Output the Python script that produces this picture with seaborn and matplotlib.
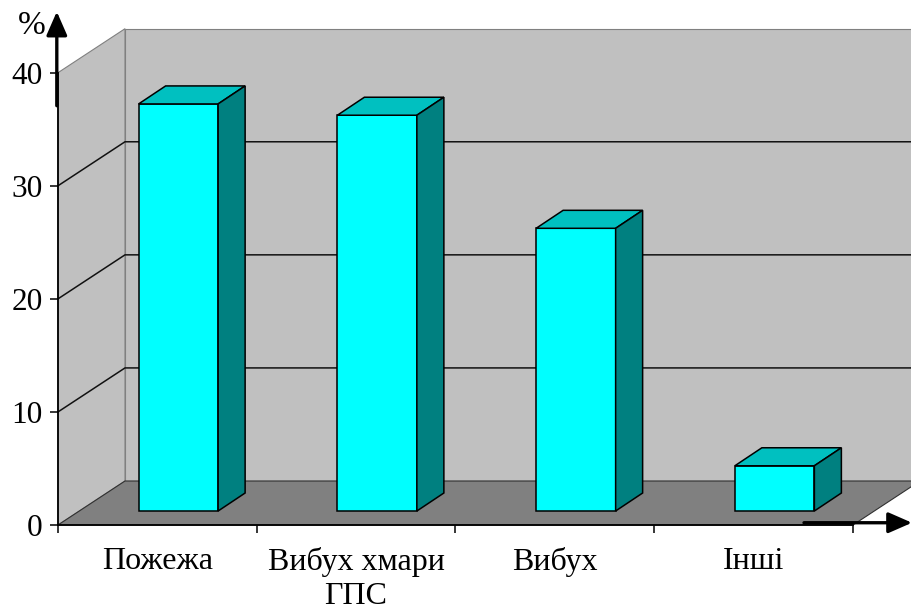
import matplotlib
matplotlib.use("Agg")
import matplotlib.pyplot as plt
import seaborn as sns
import pandas as pd
import numpy as np
from matplotlib.patches import Polygon
from matplotlib.transforms import IdentityTransform, ScaledTranslation

# ---- data ----
categories = ["Пожежа", "Вибух хмари\nГПС", "Вибух", "Інші"]
values = [36, 35, 25, 4]
y_ticks = [0, 10, 20, 30, 40]
y_label = "%"

# ---- style ----
sns.set_theme(style="white")
plt.rcParams["font.family"] = ["Liberation Serif", "DejaVu Serif"]

WALL = "#C0C0C0"
FLOOR = "#808080"
FRONT = "#00FFFF"
TOP = "#00C0C0"
SIDE = "#008080"

W, H = 912, 612
fig = plt.figure(figsize=(W / 100, H / 100), dpi=100)
fig.patch.set_facecolor("white")
ax = fig.add_axes([58 / W, (H - 525) / H, (853 - 58) / W, (525 - 72.7) / H])
ax.set_facecolor("none")

df = pd.DataFrame({"cat": categories, "val": values})
sns.barplot(data=df, x="cat", y="val", width=0.4, color=FRONT, saturation=1,
            edgecolor="black", linewidth=1.1, ax=ax, zorder=5)
ax.set_xlim(-0.5, len(categories) - 0.5)
ax.set_ylim(y_ticks[0], y_ticks[-1])
ax.set_xlabel("")
ax.set_ylabel("")

# projection depth (pixels, display coords: y up)
DX, DY = 67, 44          # full depth of the floor
BFX, BFY = 21, 14        # bar front-face depth
BDX, BDY = 27, 18        # bar thickness

fig.canvas.draw()
ident = IdentityTransform()

A = ax.transAxes.transform((0, 0))
B = ax.transAxes.transform((1, 0))
C = ax.transAxes.transform((0, 1))
Bt = ax.transAxes.transform((1, 1))
d = np.array([DX, DY])

# walls
left_wall = Polygon([A, C, C + d, A + d], closed=True, facecolor=WALL,
                    edgecolor="#808080", lw=0.8, transform=ident, zorder=0.5, clip_on=False)
back_wall = Polygon([A + d, B + d, Bt + d, C + d], closed=True, facecolor=WALL,
                    edgecolor="#808080", lw=0.8, transform=ident, zorder=0.4, clip_on=False)
floor = Polygon([A, B, B + d, A + d], closed=True, facecolor=FLOOR,
                edgecolor="#303030", lw=0.8, transform=ident, zorder=0.6, clip_on=False)
for p in (back_wall, left_wall, floor):
    ax.add_patch(p)

# gridlines on walls
for v in y_ticks[1:-1]:
    yv = ax.transData.transform((0, v))[1]
    ax.plot([A[0], A[0] + DX, B[0] + DX], [yv, yv + DY, yv + DY], color="#111111",
            lw=1.1, transform=ident, zorder=0.7, clip_on=False)

# bars: shift front face, add top & side faces
off = ScaledTranslation(BFX / 100, BFY / 100, fig.dpi_scale_trans)
bars = [p for p in ax.patches if p not in (back_wall, left_wall, floor)]
for p in bars:
    p.set_transform(ax.transData + off)
    p.set_clip_on(False)
    x0, x1 = p.get_x(), p.get_x() + p.get_width()
    h = p.get_height()
    (px0, py1), (px1, _), (_, py0) = ax.transData.transform([[x0, h], [x1, h], [x1, 0]])
    px0 += BFX; px1 += BFX; py1 += BFY; py0 += BFY
    top = Polygon([(px0, py1), (px1, py1), (px1 + BDX, py1 + BDY), (px0 + BDX, py1 + BDY)],
                  closed=True, facecolor=TOP, edgecolor="black", lw=1.1,
                  transform=ident, zorder=5, clip_on=False)
    side = Polygon([(px1, py0), (px1, py1), (px1 + BDX, py1 + BDY), (px1 + BDX, py0 + BDY)],
                   closed=True, facecolor=SIDE, edgecolor="black", lw=1.1,
                   transform=ident, zorder=5, clip_on=False)
    ax.add_patch(top)
    ax.add_patch(side)

# axes / ticks
for s in ("top", "right"):
    ax.spines[s].set_visible(False)
for s in ("left", "bottom"):
    ax.spines[s].set_color("black")
    ax.spines[s].set_linewidth(1.3)
    ax.spines[s].set_zorder(6)

ax.set_yticks(y_ticks)
ax.set_yticklabels([str(t) for t in y_ticks])
ax.tick_params(axis="y", which="major", direction="out", length=6, width=1.1,
               color="black", labelsize=22.5, pad=5, labelcolor="black", left=True)
bounds = np.arange(-0.5, len(categories), 1.0)
ax.set_xticks(bounds)
ax.set_xticklabels([""] * len(bounds))
ax.set_xticks(range(len(categories)), labels=categories, minor=True)
ax.tick_params(axis="x", which="major", direction="out", length=5.5, width=1.1,
               color="black", bottom=True)
ax.tick_params(axis="x", which="minor", length=0, labelsize=23, pad=16, labelcolor="black")
for t in ax.get_xticklabels(minor=True):
    t.set_linespacing(1.2)

# axis arrows
ax.annotate("", xy=(-0.0015, 1.135), xycoords="axes fraction",
            xytext=(-0.0015, 0.927), textcoords="axes fraction",
            arrowprops=dict(arrowstyle="-|>,head_width=0.35,head_length=0.8", lw=2.4,
                            color="black", mutation_scale=18, shrinkA=0, shrinkB=0),
            annotation_clip=False)
ax.annotate("", xy=(1.0 + 59 / (853 - 58), 0.005), xycoords="axes fraction",
            xytext=(1.0 - 49 / (853 - 58), 0.005), textcoords="axes fraction",
            arrowprops=dict(arrowstyle="-|>,head_width=0.35,head_length=0.8", lw=2.4,
                            color="black", mutation_scale=18, shrinkA=0, shrinkB=0),
            annotation_clip=False)
ax.text(-0.033, 1.103, y_label, transform=ax.transAxes, fontsize=24,
        ha="center", va="center", color="black")

fig.savefig("out.png", dpi=100, facecolor="white")
